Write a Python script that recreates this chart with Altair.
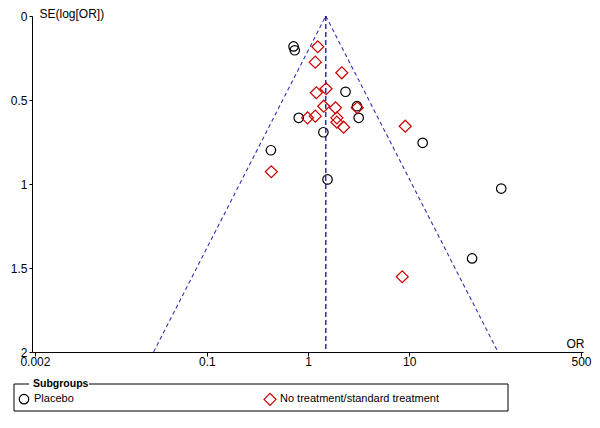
import altair as alt
import pandas as pd
import math

# ---- data ----
subgroups = ["Placebo", "No treatment/standard treatment"]

placebo_or = [0.72, 0.74, 2.35, 3.05, 3.17, 0.81, 1.42, 13.6, 0.43, 1.56, 81.3, 41.9]
placebo_se = [0.181, 0.204, 0.451, 0.537, 0.606, 0.606, 0.692, 0.755, 0.799, 0.973, 1.027, 1.443]

notrt_or = [1.25, 1.18, 2.16, 1.51, 1.21, 1.43, 1.87, 3.07, 0.99, 1.18, 1.93, 1.93, 2.25, 9.15, 0.434, 8.54]
notrt_se = [0.183, 0.275, 0.338, 0.433, 0.457, 0.537, 0.546, 0.546, 0.606, 0.596, 0.606, 0.632, 0.662, 0.656, 0.927, 1.552]

pooled_or = 1.5
se_limits = [0.0, 2.0]

x_ticks = [0.002, 0.1, 1, 10, 500]
y_ticks = [0, 0.5, 1, 1.5, 2]

FONT = "Liberation Sans"

pts = pd.DataFrame({
    "OR": placebo_or + notrt_or,
    "SE": placebo_se + notrt_se,
    "Subgroup": [subgroups[0]] * len(placebo_or) + [subgroups[1]] * len(notrt_or),
})

funnel_left = pd.DataFrame({"OR": [pooled_or * math.exp(-1.96 * s) for s in se_limits], "SE": se_limits})
funnel_right = pd.DataFrame({"OR": [pooled_or * math.exp(1.96 * s) for s in se_limits], "SE": se_limits})
center = pd.DataFrame({"OR": [pooled_or, pooled_or], "SE": se_limits})

xscale = alt.Scale(type="log", domain=[0.00187, 523], nice=False)
yscale = alt.Scale(domain=[0, 2], reverse=True, nice=False, zero=False)

xaxis = alt.Axis(values=x_ticks, format="~g", title="OR", grid=False,
                 tickSize=4, labelPadding=0, titleAlign="center", titleAnchor="start",
                 titleX=543, titleY=-9, titleBaseline="middle", labelFlush=False)
yaxis = alt.Axis(values=y_ticks, format="~g", title="SE(log[OR])", grid=False,
                 tickSize=3, labelPadding=2, titleAngle=0, titleAlign="left",
                 titleAnchor="start", titleX=7, titleY=-8, titleBaseline="top")

X = alt.X("OR:Q", scale=xscale, axis=xaxis)
Y = alt.Y("SE:Q", scale=yscale, axis=yaxis)

lines_left = alt.Chart(funnel_left).mark_line(color="#3232b4", strokeWidth=1.1, strokeDash=[4, 3]).encode(x=X, y=Y)
lines_right = alt.Chart(funnel_right).mark_line(color="#3232b4", strokeWidth=1.1, strokeDash=[4, 3]).encode(x=X, y=Y)
line_center = alt.Chart(center).mark_line(color="#000080", strokeWidth=1.2, strokeDash=[5, 3]).encode(x=X, y=Y)

leg = alt.Legend(title=None, orient="none", legendX=-15, legendY=376, direction="horizontal",
                 columns=2, columnPadding=187, labelOffset=3, labelFont=FONT, labelFontSize=11,
                 labelColor="black", padding=0, symbolStrokeWidth=1.2, labelLimit=300)

points = alt.Chart(pts).mark_point(filled=False, strokeWidth=1.2, opacity=1).encode(
    x=X, y=Y,
    shape=alt.Shape("Subgroup:N", scale=alt.Scale(domain=subgroups, range=["circle", "diamond"]), legend=leg),
    color=alt.Color("Subgroup:N", scale=alt.Scale(domain=subgroups, range=["#000000", "#cc0000"]), legend=leg),
    size=alt.Size("Subgroup:N", scale=alt.Scale(domain=subgroups, range=[90, 144]), legend=leg),
)

one = pd.DataFrame({"a": [0]})
box = alt.Chart(one).mark_rect(fill="white", fillOpacity=0, stroke="black", strokeWidth=1).encode(
    x=alt.value(-18), x2=alt.value(476), y=alt.value(368), y2=alt.value(395))
title_bg = alt.Chart(one).mark_rect(fill="white", stroke="white", strokeWidth=0).encode(
    x=alt.value(-3), x2=alt.value(57), y=alt.value(362), y2=alt.value(374))
title_txt = alt.Chart(one).mark_text(text="Subgroups", font=FONT, fontSize=10.5, fontWeight="bold",
                                     align="left", baseline="middle", color="black").encode(
    x=alt.value(1), y=alt.value(368))

chart = alt.layer(lines_left, lines_right, line_center, points, box, title_bg, title_txt).properties(
    width=551, height=336,
    autosize=alt.AutoSizeParams(type="none"),
    padding={"left": 24, "top": 8, "right": 9, "bottom": 62},
    background="white",
).configure_view(stroke=None).configure_axis(
    domainColor="black", tickColor="black", labelColor="black", titleColor="black",
    labelFont=FONT, titleFont=FONT, labelFontSize=12, titleFontSize=12,
    titleFontWeight="normal", domainWidth=1, tickWidth=1,
)

chart.save("out.html", embed_options={"renderer": "svg", "actions": False})
